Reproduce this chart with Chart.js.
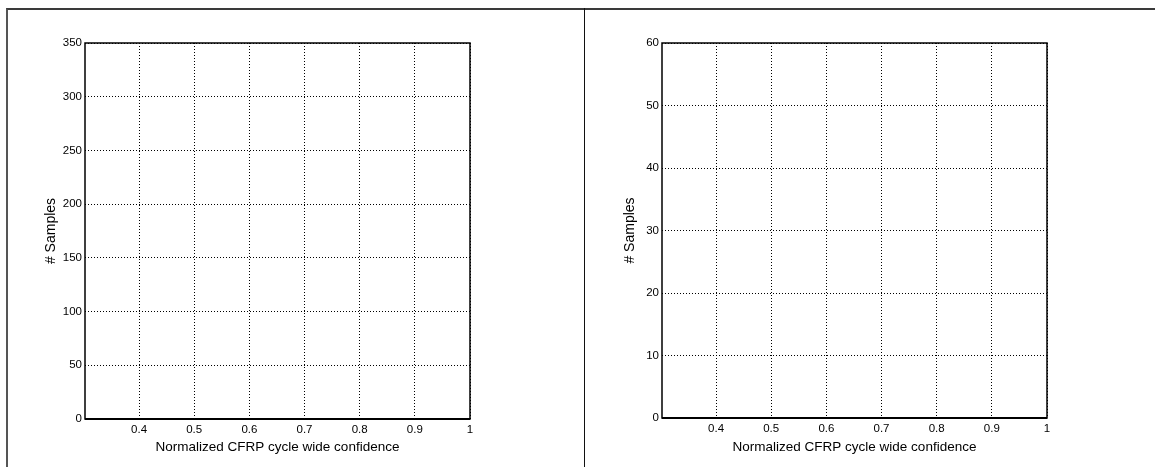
<!DOCTYPE html>
<html>
<head>
<meta charset="utf-8">
<script src="https://cdn.jsdelivr.net/npm/chart.js@4"></script>
<style>
  body { margin: 0; background: #fff; width: 1155px; height: 467px; overflow: hidden; position: relative; }
  #frame { position: absolute; left: 6px; top: 8px; width: 1160px; height: 470px; border-top: 2px solid #3a3a3a; border-left: 2px solid #555; }
  #divider { position: absolute; left: 584px; top: 8px; width: 1px; height: 470px; background: #111; }
  #c1 { position: absolute; left: 8px; top: 10px; }
  #c2 { position: absolute; left: 585px; top: 10px; }
</style>
</head>
<body>
<div id="frame"></div>
<div id="divider"></div>
<canvas id="c1" width="576" height="457"></canvas>
<canvas id="c2" width="570" height="457"></canvas>
<script>
// histogram bins (centres) and counts, both panels are empty
var binCentres = [0.35, 0.45, 0.55, 0.65, 0.75, 0.85, 0.95];
var countsLeft = [0, 0, 0, 0, 0, 0, 0];
var countsRight = [0, 0, 0, 0, 0, 0, 0];
var xTicks = [0.4, 0.5, 0.6, 0.7, 0.8, 0.9, 1];
var xMin = 0.302, xMax = 1;
var yMaxLeft = 350, yStepLeft = 50;
var yMaxRight = 60, yStepRight = 10;
var xTitle = 'Normalized CFRP cycle wide confidence';
var yTitle = '# Samples';

Chart.defaults.font.family = '"Liberation Sans", Arial, Helvetica, sans-serif';
Chart.defaults.color = '#000';
Chart.defaults.animation = false;

// draw the matlab style box round the axes
var boxPlugin = {
  id: 'box',
  afterDraw: function(chart) {
    var a = chart.chartArea, c = chart.ctx;
    c.save();
    c.strokeStyle = '#000';
    c.lineWidth = 1.5;
    c.strokeRect(a.left, a.top, a.right - a.left, a.bottom - a.top);
    c.lineWidth = 2;
    c.beginPath();
    c.moveTo(a.left, a.bottom);
    c.lineTo(a.right, a.bottom);
    c.stroke();
    c.restore();
  }
};

function makeChart(el, counts, yMax, yStep, p) {
  var pts = binCentres.map(function(x, i) { return { x: x, y: counts[i] }; });
  return new Chart(el, {
    type: 'bar',
    data: {
      datasets: [{
        data: pts,
        backgroundColor: '#00008f',
        borderColor: '#000',
        borderWidth: 1,
        barPercentage: 1,
        categoryPercentage: 1
      }]
    },
    options: {
      responsive: false,
      layout: { padding: { left: 30, right: p.right, top: 33, bottom: 0 } },
      plugins: { legend: { display: false }, tooltip: { enabled: false } },
      scales: {
        x: {
          type: 'linear',
          offset: false,
          min: xMin,
          max: xMax,
          afterBuildTicks: function(s) { s.ticks = xTicks.map(function(v) { return { value: v }; }); },
          afterFit: function(s) { s.height = p.xh; },
          ticks: { font: { size: 11.5 }, padding: 4, callback: function(v) { return String(v); } },
          grid: { color: '#000', lineWidth: 1, drawTicks: false, offset: false },
          border: { display: false, dash: [1, 2] },
          title: { display: true, text: xTitle, font: { size: 13.5 }, padding: { top: 0, bottom: 12 } }
        },
        y: {
          min: 0,
          max: yMax,
          afterFit: function(s) { s.width = p.yw; },
          ticks: { stepSize: yStep, font: { size: 11.5 }, padding: 3 },
          grid: { color: '#000', lineWidth: 1, drawTicks: false },
          border: { display: false, dash: [1, 2] },
          title: { display: true, text: yTitle, font: { size: 14 }, padding: { top: p.yt, bottom: 0 } }
        }
      }
    },
    plugins: [boxPlugin]
  });
}

makeChart(document.getElementById('c1'), countsLeft, yMaxLeft, yStepLeft, { right: 114, xh: 48, yw: 47, yt: 5 });
makeChart(document.getElementById('c2'), countsRight, yMaxRight, yStepRight, { right: 108, xh: 49, yw: 47, yt: 7 });
</script>
</body>
</html>
